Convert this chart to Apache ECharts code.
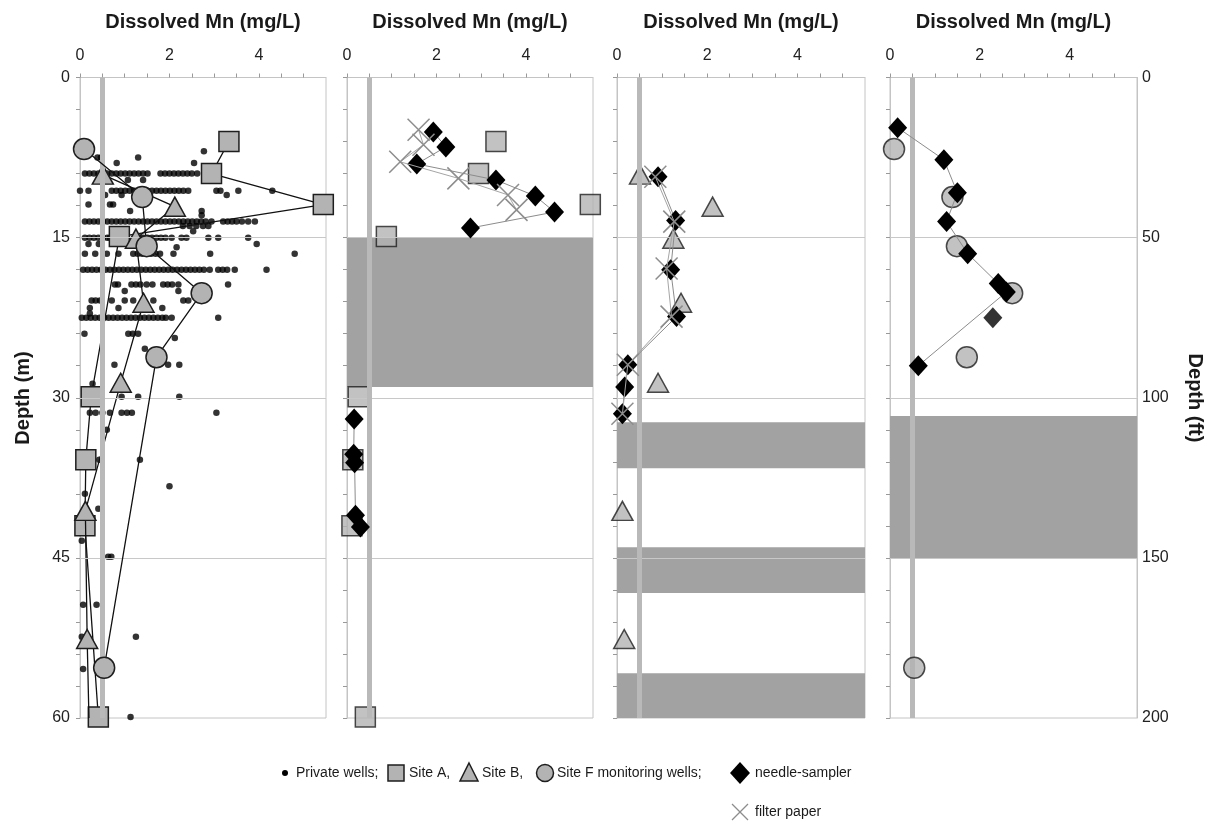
<!DOCTYPE html>
<html><head><meta charset="utf-8">
<script src="https://cdn.jsdelivr.net/npm/echarts@6/dist/echarts.min.js"></script>
<style>html,body{margin:0;padding:0;background:#fff}#c{width:1207px;height:840px}</style>
</head><body><div id="c"></div>
<script>
// ---------- DATA (Dissolved Mn in mg/L, depth in m) ----------
const mnThreshold = 0.5;
const xTickLabels = [0, 2, 4];
const depthTickLabels = [0, 15, 30, 45, 60];
const feetTickLabels = [0, 50, 100, 150, 200];

// Private wells: rows of [depth, list of Mn values]
const privateWellRows = [
  [6.9, [2.77]],
  [7.5, [0.39, 0.47, 1.30]],
  [8.0, [0.82, 2.55]],
  [9.0, [0.11,0.21,0.31,0.41,0.51,0.61,0.71,0.81,0.91,1.01,1.11,1.21,1.31,1.41,1.51,1.80,1.90,2.00,2.10,2.20,2.30,2.40,2.50,2.62]],
  [9.6, [1.07, 1.41]],
  [10.6,[0.00,0.19,0.71,0.81,0.91,1.01,1.11,1.21,1.31,1.41,1.51,1.61,1.71,1.81,1.91,2.01,2.11,2.21,2.31,2.42,3.05,3.14,3.54,4.30]],
  [11.0,[0.56, 0.93, 3.28]],
  [11.9,[0.19, 0.67, 0.74]],
  [12.5,[1.12, 2.72]],
  [12.9,[2.72]],
  [13.5,[0.11,0.21,0.31,0.41,0.51,0.61,0.71,0.81,0.91,1.01,1.11,1.21,1.31,1.41,1.51,1.61,1.71,1.81,1.91,2.01,2.11,2.21,2.31,2.41,2.51,2.61,2.71,2.81,2.94,3.20,3.30,3.40,3.50,3.62,3.76,3.91]],
  [13.9,[2.30, 2.45, 2.60, 2.75, 2.87]],
  [14.4,[2.53]],
  [15.0,[0.11,0.21,0.31,0.41,0.51,0.61,0.67,1.31,1.41,1.51,1.61,1.71,1.81,1.91,2.05,2.27,2.38,2.87,3.09,3.76]],
  [15.6,[0.19, 0.42, 3.95]],
  [15.9,[2.16]],
  [16.5,[0.11,0.34,0.60,0.86,1.19,1.29,1.39,1.49,1.59,1.69,1.79,2.09,2.91,4.80]],
  [18.0,[0.07,0.17,0.27,0.37,0.47,0.57,0.67,0.77,0.87,0.97,1.07,1.17,1.27,1.37,1.47,1.57,1.67,1.77,1.87,1.97,2.07,2.17,2.27,2.37,2.47,2.57,2.67,2.77,2.90,3.09,3.19,3.29,3.46,4.17]],
  [19.4,[0.78,0.85,1.15,1.25,1.35,1.49,1.62,1.86,1.96,2.06,2.20,3.31]],
  [20.0,[1.00, 2.20]],
  [20.9,[0.26,0.35,0.45,0.71,1.00,1.19,1.64,2.31,2.42]],
  [21.6,[0.22, 0.86, 1.84]],
  [22.1,[0.22]],
  [22.5,[0.04,0.14,0.24,0.34,0.44,0.54,0.64,0.74,0.84,0.94,1.04,1.14,1.24,1.34,1.44,1.54,1.64,1.74,1.84,1.92,2.05,3.09]],
  [24.0,[0.10, 1.08, 1.18, 1.30]],
  [24.4,[2.12]],
  [25.4,[1.45]],
  [26.9,[0.77, 1.97, 2.22]],
  [28.7,[0.28]],
  [29.9,[0.93, 1.30, 2.22]],
  [31.4,[0.22,0.35,0.50,0.67,0.93,1.05,1.16,3.05]],
  [33.0,[0.60]],
  [35.8,[0.43, 1.34]],
  [38.3,[2.00]],
  [39.0,[0.11]],
  [40.4,[0.41]],
  [43.4,[0.04]],
  [44.9,[0.63, 0.70]],
  [49.4,[0.07, 0.37]],
  [52.4,[0.04, 1.25]],
  [55.4,[0.07]],
  [59.9,[1.13]]
];

// Monitoring wells [Mn, depth]
const siteA = [[3.33,6.0],[2.94,9.0],[5.44,11.9],[0.88,14.9],[0.25,29.9],[0.13,35.8],[0.11,42.0],[0.41,59.9]];
const siteB = [[0.51,9.1],[2.12,12.1],[1.25,15.1],[1.42,21.1],[0.91,28.6],[0.12,40.6],[0.16,52.6]];
const siteBLineEnd = [0.20, 60.0];
const siteF = [[0.09,6.7],[1.39,11.2],[1.49,15.8],[2.72,20.2],[1.71,26.2],[0.54,55.3]];

// Needle-sampler and filter paper profiles [Mn, depth]
const needleA1 = [[1.93,5.1],[2.21,6.5],[1.56,8.1],[3.33,9.6],[4.21,11.1],[4.64,12.6],[2.76,14.1]];
const needleA2 = [[0.16,32.0],[0.15,35.3],[0.17,36.1],[0.19,41.0],[0.30,42.1]];
const filterA  = [[1.60,4.9],[1.71,6.3],[1.19,7.9],[2.49,9.45],[3.60,11.0],[3.79,12.4]];
const needleB  = [[0.91,9.3],[1.30,13.4],[1.19,18.0],[1.32,22.4],[0.24,26.9],[0.17,29.0],[0.12,31.5]];
const filterB  = [[0.85,9.3],[1.27,13.5],[1.10,17.9],[1.21,22.4],[0.24,26.9],[0.12,31.5]];
const needleF  = [[0.17,4.7],[1.20,7.7],[1.50,10.8],[1.26,13.5],[1.73,16.5],[2.41,19.3],[2.59,20.1],[0.63,27.0]];
const needleFExtra = [[2.29,22.5]];

// Shaded intervals per panel [top depth, bottom depth]
const bandsPanel = [[], [[15,29]], [[32.3,36.6],[44.0,48.3],[55.8,60]], [[31.7,45]]];
const gridDepths = [15, 30, 45];

// ---------- CHART ----------
const FONT = '"Liberation Sans", Arial, sans-serif';
const panels = [
  {left:80, width:246},
  {left:347, width:246},
  {left:617, width:248},
  {left:890, width:247}
];
const TOP = 77.5, HEIGHT = 640.5;
const AX = '#c4c4c4';
const GRAYFILL = '#b3b3b3';
const OUT = '#1e1e1e';

const grid = panels.map(p => ({left:p.left, width:p.width, top:TOP, height:HEIGHT,
  show:true, borderColor:AX, borderWidth:1, backgroundColor:'transparent'}));

const xAxis = panels.map((p,i) => ({
  type:'value', gridIndex:i, position:'top', min:0, max:5.5, interval:0.5,
  axisLine:{show:true, lineStyle:{color:AX}},
  axisTick:{show:true, length:4, lineStyle:{color:'#999'}},
  axisLabel:{fontSize:16, color:'#222', margin:14, fontFamily:FONT, showMaxLabel:false,
    formatter: v => xTickLabels.indexOf(v) >= 0 ? String(v) : ''},
  splitLine:{show:false},
  name:'Dissolved Mn (mg/L)', nameLocation:'middle', nameGap:45,
  nameTextStyle:{fontSize:20, fontWeight:'bold', color:'#1a1a1a', fontFamily:FONT}
}));

const yAxis = panels.map((p,i) => ({
  type:'value', gridIndex:i, inverse:true, min:0, max:60, interval:3,
  axisLine:{show:true, lineStyle:{color:AX}},
  axisTick:{show:true, length:4, lineStyle:{color:'#999'}},
  axisLabel:{show:i===0, fontSize:16, color:'#222', margin:10, fontFamily:FONT,
    formatter: v => depthTickLabels.indexOf(v) >= 0 ? String(v) : ''},
  splitLine:{show:false}
}));
yAxis.push({
  type:'value', gridIndex:3, position:'right', inverse:true, min:0, max:200, interval:50,
  axisLine:{show:true, lineStyle:{color:AX}},
  axisTick:{show:false},
  axisLabel:{fontSize:16, color:'#222', margin:5, fontFamily:FONT,
    formatter: v => feetTickLabels.indexOf(v) >= 0 ? String(v) : ''},
  splitLine:{show:false}
});

const series = [];
const markerStyle = {color:GRAYFILL, borderColor:OUT, borderWidth:1.5};

panels.forEach((p,i) => {
  series.push({type:'scatter', xAxisIndex:i, yAxisIndex:i, data:[], z:0, silent:true,
    markArea:{silent:true, itemStyle:{color:'#a2a2a2'},
      data: bandsPanel[i].map(b => [{yAxis:b[0]}, {yAxis:b[1]}])}});
  series.push({type:'scatter', xAxisIndex:i, yAxisIndex:i, data:[], z:1, silent:true,
    markLine:{silent:true, symbol:['none','none'], label:{show:false}, animation:false,
      data: gridDepths.map(d => ({yAxis:d, lineStyle:{color:'#c8c8c8', width:1, type:'solid'}}))
        .concat([{xAxis:mnThreshold, lineStyle:{color:'#b9b9b9', width:5, type:'solid'}}])}});
});

// Panel 1
const privateWells = [];
privateWellRows.forEach(r => r[1].forEach(v => privateWells.push([v, r[0]])));
series.push({name:'Private wells', type:'scatter', xAxisIndex:0, yAxisIndex:0, z:2,
  data:privateWells, symbol:'circle', symbolSize:6.5, itemStyle:{color:'#000'}});
series.push({name:'Site A', type:'line', xAxisIndex:0, yAxisIndex:0, z:3, data:siteA,
  symbol:'rect', symbolSize:20, showSymbol:true, lineStyle:{color:'#111', width:1.3}, itemStyle:markerStyle});
series.push({name:'Site B', type:'line', xAxisIndex:0, yAxisIndex:0, z:4,
  data:siteB.concat([{value:siteBLineEnd, symbol:'none'}]),
  symbol:'triangle', symbolSize:[21,19], showSymbol:true, lineStyle:{color:'#111', width:1.3}, itemStyle:markerStyle});
series.push({name:'Site F', type:'line', xAxisIndex:0, yAxisIndex:0, z:5, data:siteF,
  symbol:'circle', symbolSize:21, showSymbol:true, lineStyle:{color:'#111', width:1.3}, itemStyle:markerStyle});

// Panel 2
const needleStyle = {symbol:'diamond', symbolSize:[19,21], showSymbol:true,
  lineStyle:{color:'#8c8c8c', width:1}, itemStyle:{color:'#000'}};
const xSymbol = 'path://M0,0L10,10M10,0L0,10';
const filterStyle = {symbol:xSymbol, symbolSize:22, showSymbol:true,
  lineStyle:{color:'#a5a5a5', width:1}, itemStyle:{color:'rgba(0,0,0,0)', borderColor:'#8d8d8d', borderWidth:1.5}};
series.push({name:'Site A', type:'scatter', xAxisIndex:1, yAxisIndex:1, z:3, data:siteA,
  symbol:'rect', symbolSize:20, itemStyle:markerStyle});
series.push(Object.assign({type:'line', xAxisIndex:1, yAxisIndex:1, z:6, data:needleA1}, needleStyle));
series.push(Object.assign({type:'line', xAxisIndex:1, yAxisIndex:1, z:6, data:needleA2}, needleStyle));
series.push(Object.assign({type:'line', xAxisIndex:1, yAxisIndex:1, z:7, data:filterA}, filterStyle));

// Panel 3
series.push({name:'Site B', type:'scatter', xAxisIndex:2, yAxisIndex:2, z:4, data:siteB,
  symbol:'triangle', symbolSize:[21,19], itemStyle:markerStyle});
series.push(Object.assign({type:'line', xAxisIndex:2, yAxisIndex:2, z:6, data:needleB}, needleStyle));
series.push(Object.assign({type:'line', xAxisIndex:2, yAxisIndex:2, z:7, data:filterB}, filterStyle));

// Panel 4
series.push({name:'Site F', type:'scatter', xAxisIndex:3, yAxisIndex:3, z:5, data:siteF,
  symbol:'circle', symbolSize:21, itemStyle:markerStyle});
series.push(Object.assign({type:'line', xAxisIndex:3, yAxisIndex:3, z:6, data:needleF}, needleStyle));
series.push({type:'scatter', xAxisIndex:3, yAxisIndex:3, z:6, data:needleFExtra,
  symbol:'diamond', symbolSize:[19,21], itemStyle:{color:'#000'}});

// Legend + axis titles drawn as graphic elements
const LY = 773, LY2 = 812;
const tStyle = (txt, x, y) => ({type:'text', x:x, y:y, style:{text:txt, font:'14px ' + FONT, fill:'#1a1a1a',
  textAlign:'left', textVerticalAlign:'middle', verticalAlign:'middle'}});
const graphic = [
  {type:'text', x:23, y:398, rotation:Math.PI/2, style:{text:'Depth (m)', font:'bold 20px ' + FONT, fill:'#1a1a1a',
    textAlign:'center', textVerticalAlign:'middle', align:'center', verticalAlign:'middle'}},
  {type:'text', x:1195, y:398, rotation:-Math.PI/2, style:{text:'Depth (ft)', font:'bold 20px ' + FONT, fill:'#1a1a1a',
    textAlign:'center', textVerticalAlign:'middle', align:'center', verticalAlign:'middle'}},
  {type:'circle', shape:{cx:285, cy:LY, r:3}, style:{fill:'#000'}},
  tStyle('Private wells;', 296, LY),
  {type:'rect', shape:{x:388, y:LY-8, width:16, height:16}, style:{fill:GRAYFILL, stroke:OUT, lineWidth:1.5}},
  tStyle('Site A,', 409, LY),
  {type:'polygon', shape:{points:[[469,LY-10],[478,LY+8],[460,LY+8]]}, style:{fill:GRAYFILL, stroke:OUT, lineWidth:1.5}},
  tStyle('Site B,', 482, LY),
  {type:'circle', shape:{cx:545, cy:LY, r:8.5}, style:{fill:GRAYFILL, stroke:OUT, lineWidth:1.5}},
  tStyle('Site F monitoring wells;', 557, LY),
  {type:'polygon', shape:{points:[[740,LY-11],[750,LY],[740,LY+11],[730,LY]]}, style:{fill:'#000'}},
  tStyle('needle-sampler', 755, LY),
  {type:'line', shape:{x1:732, y1:LY2-8, x2:748, y2:LY2+8}, style:{stroke:'#8d8d8d', lineWidth:1.3}},
  {type:'line', shape:{x1:748, y1:LY2-8, x2:732, y2:LY2+8}, style:{stroke:'#8d8d8d', lineWidth:1.3}},
  tStyle('filter paper', 755, LY2)
];

const chart = echarts.init(document.getElementById('c'), null, {renderer:'canvas'});
chart.setOption({
  animation:false,
  backgroundColor:'#ffffff',
  textStyle:{fontFamily:FONT},
  grid:grid, xAxis:xAxis, yAxis:yAxis, series:series, graphic:graphic
});
</script>
</body></html>
